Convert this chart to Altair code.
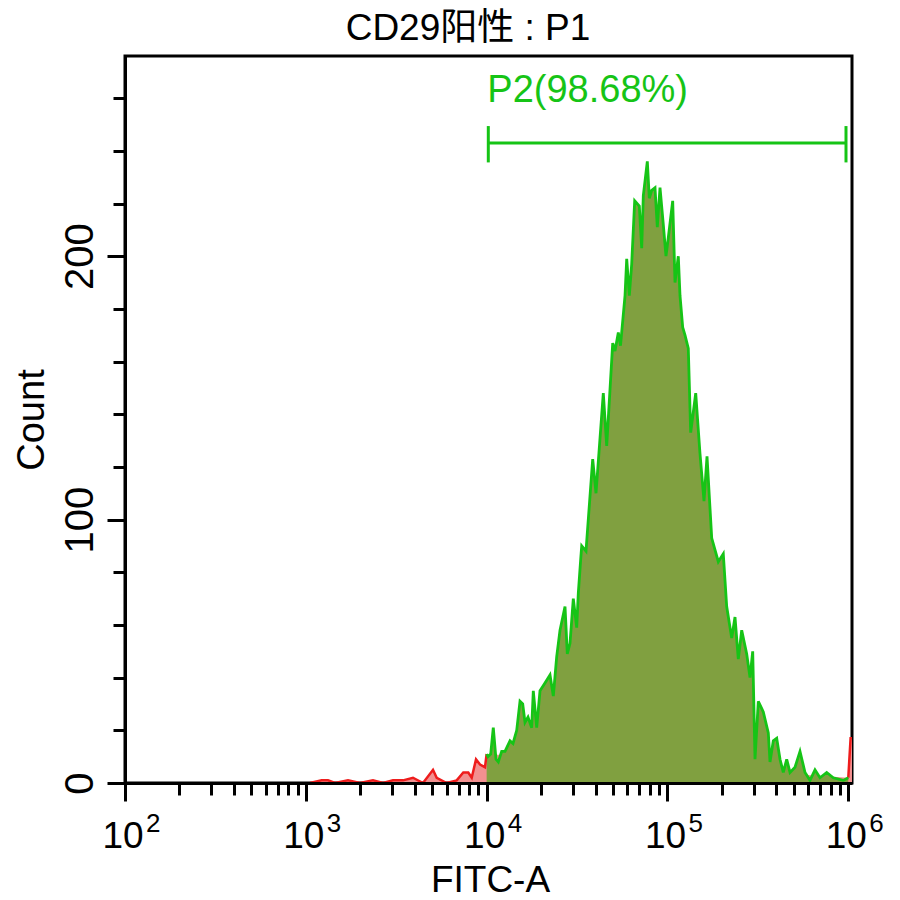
import altair as alt
import pandas as pd

# ---- data ----
red_x = [1054, 1224, 1327, 1450, 1711, 1994, 2352, 2672, 3035, 3446, 3914, 4447,
         5051, 5295, 6013, 6830, 7429, 7915, 8270, 8736, 9191, 9793, 10000]
red_y = [0, 1, 1, 0, 1, 0, 1, 0, 1, 1, 2, 0, 5, 2, 0, 1, 4, 4, 2, 9, 7, 6, 11]

green_x = [10000, 10174, 10529, 10884, 11266, 11603, 12111, 12635, 13467, 13991,
           14665, 15295, 15829, 16300, 16932, 17750, 18117, 18917, 19731, 21025,
           22409, 23373, 24403, 25455, 27129, 27934, 28907, 30152, 31486, 32131,
           33131, 33554, 35439, 38599, 40253, 44178, 46132, 49806, 51286, 53480,
           55000, 58250, 59520, 61520, 63420, 65890, 69880, 72040, 73530, 77380,
           79370, 81820, 85340, 87880, 90950, 94850, 98150, 101080, 106900, 110090,
           114820, 117330, 121430, 125030, 130400, 134420, 143310, 151360, 159280,
           165490, 175680, 191080, 203610, 212630, 226650, 236360, 246530, 257440,
           274340, 286130, 296130, 304930, 318030, 338890, 361200, 369100, 384940,
           401960, 419250, 437200, 456550, 476200, 507500, 540800, 576400, 614200,
           654600, 697500, 759800, 826500, 938600, 1000000]
green_y = [11, 10, 11, 21, 9, 8, 12, 12, 16, 15,
           20, 31, 30, 23, 25, 21, 35, 21, 35, 38,
           41, 33, 48, 58, 67, 49, 53, 70, 59, 72,
           85, 90, 88, 123, 110, 148, 128, 167, 164, 171,
           166, 185, 199, 185, 197, 221, 219, 203, 223, 236,
           222, 225, 226, 211, 226, 212, 200, 207, 221, 190,
           200, 185, 173, 170, 165, 133, 148, 125, 107,
           124, 93, 84, 87, 67, 55, 63, 47, 58,
           49, 40, 50, 9, 31, 27, 19, 8, 16,
           17, 9, 4, 9, 4, 6, 12, 4, 1,
           5, 2, 4, 2, 1, 2]

tail_x = [1000000, 1030000, 1048576]
tail_y = [2, 17, 17]

x_tick_values = [100, 200, 300, 400, 500, 600, 700, 800, 900,
                 1000, 2000, 3000, 4000, 5000, 6000, 7000, 8000, 9000,
                 10000, 20000, 30000, 40000, 50000, 60000, 70000, 80000, 90000,
                 100000, 200000, 300000, 400000, 500000, 600000, 700000, 800000, 900000,
                 1000000]
decade_values = [100, 1000, 10000, 100000, 1000000]
decade_bases = ["10", "10", "10", "10", "10"]
decade_exponents = ["2", "3", "4", "5", "6"]
y_tick_values = [0, 20, 40, 60, 80, 100, 120, 140, 160, 180, 200, 220, 240, 260]

gate_lo, gate_hi = 10214, 971400
gate_y = 243
gate_cap = [235.6, 249.4]
gate_label = "P2(98.68%)"
gate_label_y = 258.5

title_text = "CD29阳性 : P1"

# ---- styling ----
FONT = "Liberation Sans, Arial, Noto Sans CJK SC"
GREEN = "#16c416"
OLIVE = "#80a040"
RED = "#ee1c1c"
PINK = "#f29090"
W, H = 727, 727

red_df = pd.DataFrame({"fitc": red_x + tail_x, "count": red_y + tail_y,
                       "part": ["low"] * len(red_x) + ["high"] * len(tail_x)})
green_df = pd.DataFrame({"fitc": green_x, "count": green_y})
dec_df = pd.DataFrame({"fitc": decade_values, "base": decade_bases, "exp": decade_exponents})
gate_df = pd.DataFrame({"fitc": [gate_lo], "fitc2": [gate_hi], "count": [gate_y],
                        "label": [gate_label], "ly": [gate_label_y]})
cap_df = pd.DataFrame({"fitc": [gate_lo, gate_hi], "count": [gate_cap[0]] * 2,
                       "count2": [gate_cap[1]] * 2})
title_df = pd.DataFrame({"t": [title_text]})

xscale = alt.Scale(type="log", domain=[100, 1048576], nice=False)
yscale = alt.Scale(domain=[0, 276], nice=False)

x_axis = alt.Axis(
    values=x_tick_values, labels=False, grid=False, zindex=1,
    tickSize={"condition": {"test": "indexof([100,1000,10000,100000,1000000], datum.value) >= 0",
                            "value": 18}, "value": 12},
    tickWidth=3, tickColor="black", domainColor="black", domainWidth=3,
    title="FITC-A", titleFont=FONT, titleFontSize=37, titleFontWeight="normal",
    titleColor="black", titleX=365, titleY=108, titleBaseline="alphabetic",
    titleAlign="center",
)
y_axis = alt.Axis(
    values=y_tick_values, grid=False, zindex=1,
    labelExpr="datum.value % 100 === 0 ? datum.label : ''",
    tickSize={"condition": {"test": "datum.value % 100 === 0", "value": 18}, "value": 12},
    tickWidth=3, tickColor="black", domainColor="black", domainWidth=3,
    labelAngle=270, labelFont=FONT, labelFontSize=40, labelColor="black",
    labelAlign="center", labelBaseline="alphabetic", labelPadding=15,
    title="Count", titleFont=FONT, titleFontSize=38, titleFontWeight="normal",
    titleColor="black", titleAngle=270, titleX=-82, titleY=363.5,
    titleBaseline="alphabetic", titleAlign="center",
)

base_x = alt.X("fitc:Q", scale=xscale, axis=x_axis)
base_y = alt.Y("count:Q", scale=yscale, axis=y_axis)

red_area = alt.Chart(red_df).mark_area(color=PINK, opacity=1).encode(
    x=base_x, y=base_y, detail="part:N")
green_area = alt.Chart(green_df).mark_area(color=OLIVE, opacity=1).encode(
    x="fitc:Q", y="count:Q")
red_line = alt.Chart(red_df).mark_line(color=RED, strokeWidth=2.5).encode(
    x="fitc:Q", y="count:Q", detail="part:N")
green_line = alt.Chart(green_df).mark_line(color=GREEN, strokeWidth=2.8).encode(
    x="fitc:Q", y="count:Q")

gate_rule = alt.Chart(gate_df).mark_rule(color=GREEN, strokeWidth=3).encode(
    x="fitc:Q", x2="fitc2:Q", y="count:Q")
gate_caps = alt.Chart(cap_df).mark_rule(color=GREEN, strokeWidth=3).encode(
    x="fitc:Q", y="count:Q", y2="count2:Q")
gate_text = alt.Chart(gate_df).mark_text(
    color=GREEN, font=FONT, fontSize=38, align="left", baseline="alphabetic", dx=-1
).encode(x="fitc:Q", y=alt.Y("ly:Q"), text="label:N")

dec_text = alt.Chart(dec_df).mark_text(
    font=FONT, fontSize=37, color="black", align="center", baseline="alphabetic", dx=-2
).encode(x="fitc:Q", y=alt.value(792), text="base:N")
exp_text = alt.Chart(dec_df).mark_text(
    font=FONT, fontSize=26, color="black", align="left", baseline="alphabetic", dx=21
).encode(x="fitc:Q", y=alt.value(776), text="exp:N")

title_mark = alt.Chart(title_df).mark_text(
    font=FONT, fontSize=37, color="black", align="center", baseline="alphabetic"
).encode(x=alt.value(343), y=alt.value(-16), text="t:N")

chart = alt.layer(
    red_area, green_area, red_line, green_line, gate_rule, gate_caps, gate_text,
    dec_text, exp_text, title_mark
).properties(
    width=W, height=H,
    autosize="none",
    padding={"left": 117, "top": 48, "right": 40, "bottom": 117},
    background="white",
).configure_view(stroke="black", strokeWidth=3)

chart.save("out.html", embed_options={"renderer": "svg", "actions": False})
